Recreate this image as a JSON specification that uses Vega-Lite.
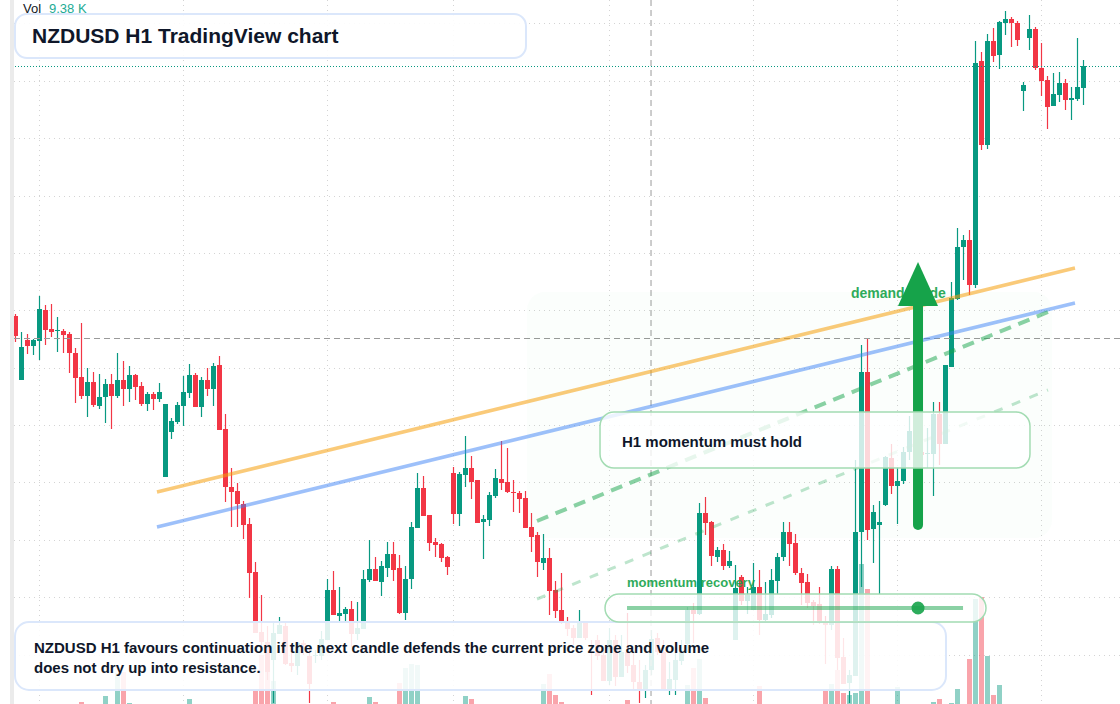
{"$schema":"https://vega.github.io/schema/vega-lite/v6.json","autosize":{"type":"none"},"width":1120,"height":704,"padding":0,"background":"#ffffff","config":{"view":{"stroke":null},"text":{"font":"Liberation Sans"},"scale":{"continuousPadding":0}},
"datasets":{"candles":[
{"i":0,"o":388,"c":368,"h":390,"l":362},{"i":1,"o":324,"c":357,"h":372,"l":324},{"i":2,"o":364,"c":358,"h":370,"l":350},{"i":3,"o":358,"c":364,"h":365,"l":349},{"i":4,"o":363,"c":395,"h":408,"l":344},{"i":5,"o":394,"c":374,"h":399,"l":359},{"i":6,"o":375,"c":372,"h":400,"l":367},{"i":7,"o":373,"c":374,"h":387,"l":352},{"i":8,"o":373,"c":369,"h":375,"l":351},{"i":9,"o":370,"c":351,"h":372,"l":331},
{"i":10,"o":351,"c":326,"h":356,"l":301},{"i":11,"o":327,"c":308,"h":381,"l":305,"vol":2},{"i":12,"o":308,"c":322,"h":336,"l":287},{"i":13,"o":322,"c":299,"h":332,"l":297},{"i":14,"o":298,"c":307,"h":330,"l":295},{"i":15,"o":307,"c":320,"h":325,"l":281,"vol":8},{"i":16,"o":320,"c":308,"h":330,"l":275},{"i":17,"o":308,"c":324,"h":351,"l":306,"vol":31},{"i":18,"o":324,"c":315,"h":343,"l":298,"vol":32},{"i":19,"o":315,"c":329,"h":338,"l":302,"vol":1},
{"i":20,"o":329,"c":317,"h":330,"l":304},{"i":21,"o":318,"c":300,"h":322,"l":298},{"i":22,"o":300,"c":310,"h":312,"l":293},{"i":23,"o":310,"c":305,"h":312,"l":294},{"i":24,"o":305,"c":312,"h":321,"l":302},{"i":25,"o":227,"c":300,"h":300,"l":227},{"i":26,"o":272,"c":283,"h":286,"l":265},{"i":27,"o":282,"c":299,"h":302,"l":280},{"i":28,"o":298,"c":312,"h":328,"l":278},{"i":29,"o":311,"c":329,"h":340,"l":306,"vol":5},
{"i":30,"o":329,"c":297,"h":331,"l":297},{"i":31,"o":297,"c":324,"h":327,"l":287},{"i":32,"o":324,"c":315,"h":336,"l":308},{"i":33,"o":315,"c":338,"h":341,"l":298},{"i":34,"o":339,"c":274,"h":348,"l":274},{"i":35,"o":275,"c":217,"h":290,"l":202},{"i":36,"o":217,"c":212,"h":236,"l":177},{"i":37,"o":213,"c":200,"h":221,"l":177},{"i":38,"o":200,"c":179,"h":203,"l":165},{"i":39,"o":180,"c":131,"h":186,"l":106},
{"i":40,"o":132,"c":71,"h":142,"l":71,"vol":14},{"i":41,"o":72,"c":62,"h":109,"l":57,"vol":49},{"i":42,"o":62,"c":32,"h":78,"l":24,"vol":44},{"i":43,"o":44,"c":71,"h":81,"l":1,"vol":23},{"i":44,"o":70,"c":79,"h":87,"l":70},{"i":45,"o":78,"c":40,"h":83,"l":39},{"i":46,"o":41,"c":38,"h":51,"l":32},{"i":47,"o":38,"c":61,"h":62,"l":29},{"i":48,"o":61,"c":59,"h":64,"l":49},{"i":49,"o":48,"c":20,"h":57,"l":1},
{"i":50,"o":48,"c":49,"h":54,"l":41},{"i":51,"o":48,"c":65,"h":73,"l":44},{"i":52,"o":64,"c":114,"h":125,"l":64},{"i":53,"o":114,"c":89,"h":133,"l":89,"vol":2},{"i":54,"o":88,"c":91,"h":117,"l":82},{"i":55,"o":90,"c":95,"h":97,"l":82},{"i":56,"o":95,"c":70,"h":103,"l":57},{"i":57,"o":70,"c":76,"h":102,"l":64},{"i":58,"o":75,"c":125,"h":134,"l":75},{"i":59,"o":124,"c":135,"h":164,"l":122,"vol":7},
{"i":60,"o":135,"c":123,"h":147,"l":123,"vol":2},{"i":61,"o":122,"c":138,"h":143,"l":108},{"i":62,"o":136,"c":150,"h":162,"l":127},{"i":63,"o":150,"c":134,"h":162,"l":123},{"i":64,"o":136,"c":91,"h":149,"l":90,"vol":21},{"i":65,"o":91,"c":125,"h":138,"l":84,"vol":36},{"i":66,"o":125,"c":177,"h":182,"l":115,"vol":40},{"i":67,"o":176,"c":216,"h":231,"l":176,"vol":39},{"i":68,"o":216,"c":188,"h":228,"l":188},{"i":69,"o":189,"c":161,"h":189,"l":153},
{"i":70,"o":162,"c":159,"h":166,"l":147},{"i":71,"o":160,"c":146,"h":161,"l":142},{"i":72,"o":147,"c":137,"h":148,"l":129},{"i":73,"o":231,"c":190,"h":237,"l":180},{"i":74,"o":190,"c":230,"h":232,"l":178},{"i":75,"o":229,"c":236,"h":268,"l":217,"vol":8},{"i":76,"o":236,"c":222,"h":248,"l":205,"vol":5},{"i":77,"o":224,"c":181,"h":224,"l":181},{"i":78,"o":182,"c":185,"h":189,"l":145},{"i":79,"o":184,"c":209,"h":212,"l":178},
{"i":80,"o":208,"c":226,"h":235,"l":206},{"i":81,"o":225,"c":221,"h":263,"l":214},{"i":82,"o":222,"c":212,"h":256,"l":211},{"i":83,"o":212,"c":211,"h":224,"l":192},{"i":84,"o":211,"c":205,"h":213,"l":191},{"i":85,"o":206,"c":176,"h":213,"l":176},{"i":86,"o":177,"c":167,"h":191,"l":152},{"i":87,"o":169,"c":142,"h":172,"l":127},{"i":88,"o":141,"c":146,"h":170,"l":134,"vol":20},{"i":89,"o":146,"c":113,"h":156,"l":89,"vol":30},
{"i":90,"o":114,"c":93,"h":123,"l":86,"vol":9},{"i":91,"o":94,"c":82,"h":131,"l":80,"vol":2},{"i":92,"o":82,"c":75,"h":87,"l":68},{"i":93,"o":76,"c":66,"h":79,"l":59},{"i":94,"o":66,"c":83,"h":94,"l":66},{"i":95,"o":83,"c":66,"h":83,"l":64},{"i":96,"o":52,"c":51,"h":64,"l":9},{"i":97,"o":64,"c":48,"h":69,"l":44},{"i":98,"o":49,"c":23,"h":54,"l":23},{"i":99,"o":23,"c":64,"h":76,"l":19},
{"i":100,"o":64,"c":27,"h":69,"l":18},{"i":101,"o":27,"c":52,"h":69,"l":27},{"i":102,"o":52,"c":38,"h":91,"l":31,"vol":4},{"i":103,"o":39,"c":22,"h":51,"l":14},{"i":104,"o":22,"c":13,"h":44,"l":1},{"i":105,"o":13,"c":34,"h":39,"l":6},{"i":106,"o":34,"c":65,"h":74,"l":29},{"i":107,"o":66,"c":52,"h":71,"l":49},{"i":108,"o":52,"c":14,"h":64,"l":14},{"i":109,"o":13,"c":25,"h":42,"l":9},
{"i":110,"o":24,"c":44,"h":51,"l":9},{"i":111,"o":43,"c":52,"h":64,"l":39},{"i":112,"o":60,"c":94,"h":97,"l":52,"vol":19},{"i":113,"o":94,"c":90,"h":101,"l":61,"vol":36},{"i":114,"o":90,"c":191,"h":201,"l":89,"vol":45},{"i":115,"o":191,"c":181,"h":207,"l":169,"vol":6},{"i":116,"o":182,"c":148,"h":183,"l":138},{"i":117,"o":147,"c":154,"h":157,"l":142},{"i":118,"o":154,"c":138,"h":160,"l":134},{"i":119,"o":138,"c":143,"h":153,"l":136},
{"i":120,"o":64,"c":116,"h":139,"l":64},{"i":121,"o":127,"c":103,"h":129,"l":99},{"i":122,"o":103,"c":109,"h":117,"l":90},{"i":123,"o":94,"c":117,"h":141,"l":94},{"i":124,"o":117,"c":84,"h":134,"l":69,"vol":18},{"i":125,"o":84,"c":90,"h":122,"l":82},{"i":126,"o":89,"c":124,"h":135,"l":86},{"i":127,"o":123,"c":147,"h":151,"l":110},{"i":128,"o":147,"c":172,"h":182,"l":143},{"i":129,"o":172,"c":160,"h":182,"l":138},
{"i":130,"o":161,"c":131,"h":170,"l":129},{"i":131,"o":131,"c":121,"h":136,"l":99},{"i":132,"o":122,"c":101,"h":130,"l":96},{"i":133,"o":102,"c":98,"h":104,"l":79},{"i":134,"o":100,"c":82,"h":117,"l":80},{"i":135,"o":82,"c":79,"h":88,"l":40,"vol":13},{"i":136,"o":79,"c":135,"h":138,"l":74,"vol":20},{"i":137,"o":135,"c":46,"h":138,"l":34,"vol":34},{"i":138,"o":47,"c":20,"h":66,"l":20,"vol":11},{"i":139,"o":21,"c":29,"h":34,"l":1,"vol":9},
{"i":140,"o":28,"c":172,"h":244,"l":28,"vol":11},{"i":141,"o":172,"c":332,"h":359,"l":117,"vol":140},{"i":142,"o":332,"c":174,"h":366,"l":164,"vol":115},{"i":143,"o":175,"c":192,"h":199,"l":141},{"i":144,"o":179,"c":182,"h":203,"l":110},{"i":145,"o":199,"c":247,"h":248,"l":198},{"i":146,"o":246,"c":218,"h":260,"l":210},{"i":147,"o":218,"c":223,"h":237,"l":180,"vol":17},{"i":148,"o":223,"c":252,"h":257,"l":220},{"i":149,"o":252,"c":273,"h":288,"l":244},
{"i":150,"o":273,"c":252,"h":279,"l":246},{"i":151,"o":252,"c":249,"h":254,"l":246},{"i":152,"o":250,"c":251,"h":276,"l":236},{"i":153,"o":250,"c":290,"h":302,"l":208,"vol":2},{"i":154,"o":290,"c":260,"h":302,"l":239,"vol":5},{"i":155,"o":260,"c":339,"h":339,"l":260},{"i":156,"o":337,"c":406,"h":422,"l":337,"vol":1},{"i":157,"o":405,"c":457,"h":476,"l":404,"vol":15},{"i":158,"o":457,"c":464,"h":469,"l":424},{"i":159,"o":464,"c":419,"h":474,"l":409,"vol":45},
{"i":160,"o":419,"c":641,"h":663,"l":416,"vol":105},{"i":161,"o":643,"c":559,"h":652,"l":554,"vol":107},{"i":162,"o":559,"c":663,"h":670,"l":555,"vol":48},{"i":163,"o":663,"c":648,"h":676,"l":642,"vol":9},{"i":164,"o":649,"c":682,"h":683,"l":635,"vol":19},{"i":165,"o":681,"c":685,"h":693,"l":669},{"i":166,"o":685,"c":681,"h":687,"l":657},{"i":167,"o":681,"c":664,"h":683,"l":658},{"i":168,"o":613,"c":619,"h":622,"l":593},{"i":169,"o":666,"c":675,"h":689,"l":654},
{"i":170,"o":675,"c":636,"h":677,"l":634},{"i":171,"o":636,"c":623,"h":661,"l":608},{"i":172,"o":624,"c":597,"h":628,"l":575},{"i":173,"o":598,"c":610,"h":631,"l":598},{"i":174,"o":609,"c":621,"h":632,"l":602},{"i":175,"o":621,"c":604,"h":625,"l":594},{"i":176,"o":604,"c":606,"h":617,"l":584},{"i":177,"o":605,"c":617,"h":666,"l":603},{"i":178,"o":616,"c":638,"h":644,"l":599}
]},
"layer":[
{"data":{"values":[{"v":680.5},{"v":622.5},{"v":565.5},{"v":507.5},{"v":450.5},{"v":393.5},{"v":335.5},{"v":278.5},{"v":221.5},{"v":163.5},{"v":106.5},{"v":48.5}]},"mark":{"type":"rule","stroke":"#d4d4d4","strokeWidth":1,"strokeDash":[1,4]},"encoding":{"y":{"field":"v","type":"quantitative","scale":{"domain":[0,704],"nice":false,"zero":false,"padding":0},"axis":null}}},
{"data":{"values":[{"i":4},{"i":28},{"i":52},{"i":73},{"i":99},{"i":123},{"i":147},{"i":171}]},"mark":{"type":"rule","stroke":"#d4d4d4","strokeWidth":1,"strokeDash":[1,4]},"encoding":{"x":{"field":"i","type":"quantitative","scale":{"domain":[-2.5833,184.0833],"nice":false,"zero":false,"padding":0},"axis":null}}},
{"data":{"name":"candles"},"transform":[{"filter":"isValid(datum.vol)"}],"mark":{"type":"bar","size":5,"opacity":0.45},"encoding":{"x":{"field":"i","type":"quantitative"},"y":{"field":"vol","type":"quantitative"},"y2":{"datum":0},"color":{"condition":{"test":"datum.c>=datum.o","value":"#089981"},"value":"#f23645"}}},
{"data":{"name":"candles"},"mark":{"type":"rule","strokeWidth":1.2},"encoding":{"x":{"field":"i","type":"quantitative"},"y":{"field":"l","type":"quantitative"},"y2":{"field":"h"},"color":{"condition":{"test":"datum.c>=datum.o","value":"#089981"},"value":"#f23645"}}},
{"data":{"name":"candles"},"mark":{"type":"bar","size":5},"encoding":{"x":{"field":"i","type":"quantitative"},"y":{"field":"o","type":"quantitative"},"y2":{"field":"c"},"color":{"condition":{"test":"datum.c>=datum.o","value":"#089981"},"value":"#f23645"}}},
{"data":{"values":[{"v":365.5}]},"mark":{"type":"rule","stroke":"#9a9a9a","strokeWidth":1,"strokeDash":[6,4]},"encoding":{"y":{"field":"v","type":"quantitative"}}},
{"data":{"values":[{"i":105.92}]},"mark":{"type":"rule","stroke":"#9a9a9a","strokeWidth":1,"strokeDash":[6,4]},"encoding":{"x":{"field":"i","type":"quantitative"}}},
{"data":{"values":[{"v":637.5}]},"mark":{"type":"rule","stroke":"#089981","strokeWidth":1,"strokeDash":[1,2]},"encoding":{"y":{"field":"v","type":"quantitative"}}},
{"data":{"values":[{"a":85.25,"b":172.75,"t":412,"u":166}]},"mark":{"type":"rect","fill":"#22c55e","opacity":0.02,"cornerRadius":18},"encoding":{"x":{"field":"a","type":"quantitative"},"x2":{"field":"b"},"y":{"field":"t","type":"quantitative"},"y2":{"field":"u"}}},
{"data":{"values":[{"i":23.58,"v":212},{"i":176.58,"v":436}]},"mark":{"type":"line","stroke":"#f59e0b","strokeWidth":3.5,"opacity":0.55},"encoding":{"x":{"field":"i","type":"quantitative"},"y":{"field":"v","type":"quantitative"}}},
{"data":{"values":[{"i":23.58,"v":177},{"i":176.58,"v":401}]},"mark":{"type":"line","stroke":"#3b82f6","strokeWidth":3.5,"opacity":0.5},"encoding":{"x":{"field":"i","type":"quantitative"},"y":{"field":"v","type":"quantitative"}}},
{"data":{"values":[{"i":86.92,"v":183},{"i":172.08,"v":392}]},"mark":{"type":"line","stroke":"#16a34a","strokeWidth":4,"opacity":0.5,"strokeDash":[12,8]},"encoding":{"x":{"field":"i","type":"quantitative"},"y":{"field":"v","type":"quantitative"}}},
{"data":{"values":[{"i":86.92,"v":105},{"i":172.08,"v":314}]},"mark":{"type":"line","stroke":"#16a34a","strokeWidth":3,"opacity":0.28,"strokeDash":[9,10]},"encoding":{"x":{"field":"i","type":"quantitative"},"y":{"field":"v","type":"quantitative"}}},
{"data":{"values":[{"i":139.25,"v":406,"t":"demand guide"}]},"mark":{"type":"text","align":"left","baseline":"alphabetic","fontSize":14,"fontWeight":"bold","fill":"#16a34a","opacity":0.9},"encoding":{"x":{"field":"i","type":"quantitative"},"y":{"field":"v","type":"quantitative"},"text":{"field":"t"}}},
{"data":{"values":[{"i":101.92,"v":117,"t":"momentum recovery"}]},"mark":{"type":"text","align":"left","baseline":"alphabetic","fontSize":13,"fontWeight":"bold","fill":"#16a34a","opacity":0.9},"encoding":{"x":{"field":"i","type":"quantitative"},"y":{"field":"v","type":"quantitative"},"text":{"field":"t"}}},
{"data":{"values":[{"i":150.42,"v":179},{"i":150.42,"v":400}]},"mark":{"type":"line","stroke":"#16a34a","strokeWidth":10,"strokeCap":"round"},"encoding":{"x":{"field":"i","type":"quantitative"},"y":{"field":"v","type":"quantitative"}}},
{"data":{"values":[{"i":147.08,"v":398,"b":398},{"i":150.42,"v":442,"b":398},{"i":153.75,"v":398,"b":398}]},"mark":{"type":"area","fill":"#16a34a","opacity":1},"encoding":{"x":{"field":"i","type":"quantitative"},"y":{"field":"v","type":"quantitative"},"y2":{"field":"b"}}},
{"data":{"values":[{"a":-2.5833,"b":-0.9167,"t":704,"u":0}]},"mark":{"type":"rect","fill":"#ffffff"},"encoding":{"x":{"field":"a","type":"quantitative"},"x2":{"field":"b"},"y":{"field":"t","type":"quantitative"},"y2":{"field":"u"}}},
{"data":{"values":[{"a":-0.9167,"b":-0.25,"t":704,"u":0}]},"mark":{"type":"rect","fill":"#ebebeb"},"encoding":{"x":{"field":"a","type":"quantitative"},"x2":{"field":"b"},"y":{"field":"t","type":"quantitative"},"y2":{"field":"u"}}},
{"data":{"values":[{"a":-0.08,"b":85.08,"t":690,"u":646}]},"mark":{"type":"rect","fill":"#ffffff","fillOpacity":0.9,"stroke":"#dbe7fb","strokeWidth":2,"cornerRadius":12},"encoding":{"x":{"field":"a","type":"quantitative"},"x2":{"field":"b"},"y":{"field":"t","type":"quantitative"},"y2":{"field":"u"}}},
{"data":{"values":[{"a":-0.08,"b":155.08,"t":82,"u":14}]},"mark":{"type":"rect","fill":"#ffffff","fillOpacity":0.87,"stroke":"#dbe7fb","strokeWidth":2,"cornerRadius":14},"encoding":{"x":{"field":"a","type":"quantitative"},"x2":{"field":"b"},"y":{"field":"t","type":"quantitative"},"y2":{"field":"u"}}},
{"data":{"values":[{"a":97.42,"b":169.08,"t":292,"u":236},{"a":98.25,"b":161.75,"t":110,"u":82}]},"mark":{"type":"rect","fill":"#ffffff","fillOpacity":0.8,"stroke":"#a3dcb3","strokeWidth":1.5,"cornerRadius":14},"encoding":{"x":{"field":"a","type":"quantitative"},"x2":{"field":"b"},"y":{"field":"t","type":"quantitative"},"y2":{"field":"u"}}},
{"data":{"values":[{"i":101.92,"v":96},{"i":157.92,"v":96}]},"mark":{"type":"line","stroke":"#16a34a","strokeWidth":4,"opacity":0.5},"encoding":{"x":{"field":"i","type":"quantitative"},"y":{"field":"v","type":"quantitative"}}},
{"data":{"values":[{"i":150.42,"v":96}]},"mark":{"type":"point","filled":true,"fill":"#16a34a","shape":"circle","size":170,"opacity":0.9},"encoding":{"x":{"field":"i","type":"quantitative"},"y":{"field":"v","type":"quantitative"}}},
{"data":{"values":[{"i":2.75,"v":661,"t":"NZDUSD H1 TradingView chart"}]},"mark":{"type":"text","align":"left","baseline":"alphabetic","fontSize":21,"fontWeight":"bold","fill":"#0f172a"},"encoding":{"x":{"field":"i","type":"quantitative"},"y":{"field":"v","type":"quantitative"},"text":{"field":"t"}}},
{"data":{"values":[{"i":3.08,"v":51,"t":"NZDUSD H1 favours continuation if the next candle defends the current price zone and volume"},{"i":3.08,"v":31,"t":"does not dry up into resistance."},{"i":101.08,"v":257,"t":"H1 momentum must hold"}]},"mark":{"type":"text","align":"left","baseline":"alphabetic","fontSize":15,"fontWeight":"bold","fill":"#0f172a"},"encoding":{"x":{"field":"i","type":"quantitative"},"y":{"field":"v","type":"quantitative"},"text":{"field":"t"}}},
{"data":{"values":[{"i":1.25,"v":691,"t":"Vol"}]},"mark":{"type":"text","align":"left","baseline":"alphabetic","fontSize":13,"fill":"#131722"},"encoding":{"x":{"field":"i","type":"quantitative"},"y":{"field":"v","type":"quantitative"},"text":{"field":"t"}}},
{"data":{"values":[{"i":5.58,"v":691,"t":"9.38 K"}]},"mark":{"type":"text","align":"left","baseline":"alphabetic","fontSize":13,"fill":"#22ab94"},"encoding":{"x":{"field":"i","type":"quantitative"},"y":{"field":"v","type":"quantitative"},"text":{"field":"t"}}}
]}
